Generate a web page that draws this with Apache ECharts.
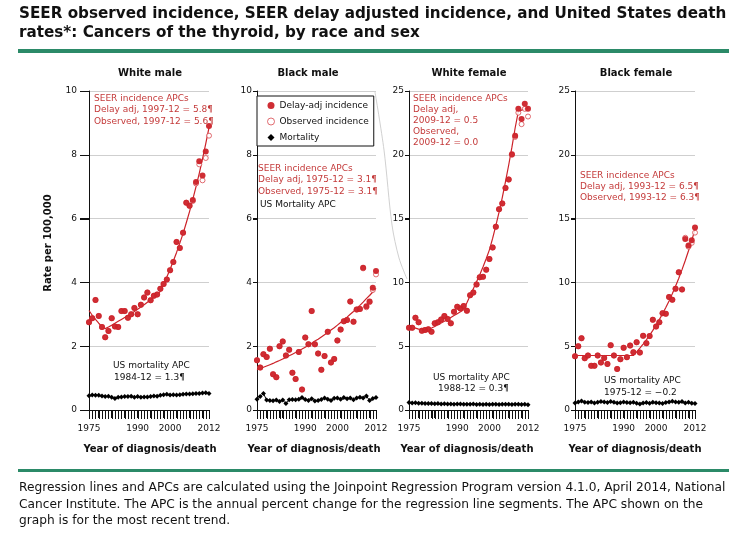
<!DOCTYPE html>
<html><head><meta charset="utf-8">
<script src="https://cdn.jsdelivr.net/npm/echarts@6.0.0/dist/echarts.min.js"></script>
<style>html,body{margin:0;padding:0;background:#fff}#c{width:750px;height:534px}</style>
</head><body><div id="c"></div>
<script>
// ---------- DATA ----------
var years = ['1975','1976','1977','1978','1979','1980','1981','1982','1983','1984','1985','1986','1987','1988','1989','1990','1991','1992','1993','1994','1995','1996','1997','1998','1999','2000','2001','2002','2003','2004','2005','2006','2007','2008','2009','2010','2011','2012'];
var xTickLabels = ['1975', '1990', '2000', '2012'];
var panelTitles = ['White male', 'Black male', 'White female', 'Black female'];

// White male
var wmDelay = [2.75,2.88,3.45,2.95,2.6,2.28,2.48,2.88,2.62,2.6,3.1,3.1,2.89,3.0,3.2,3.0,3.3,3.53,3.68,3.44,3.58,3.62,3.8,3.95,4.09,4.38,4.64,5.27,5.08,5.56,6.5,6.4,6.58,7.15,7.8,7.35,8.1,8.9];
var wmObs   = [2.75,2.88,3.45,2.95,2.6,2.28,2.48,2.88,2.62,2.6,3.1,3.1,2.89,3.0,3.2,3.0,3.3,3.53,3.68,3.44,3.58,3.62,3.8,3.95,4.09,4.38,4.64,5.27,5.08,5.56,6.5,6.4,6.55,7.1,7.7,7.2,7.9,8.6];
var wmFit   = [3.12,2.97,2.84,2.72,2.61,2.55,2.6,2.66,2.72,2.78,2.84,2.9,2.96,3.02,3.09,3.16,3.23,3.3,3.38,3.46,3.54,3.62,3.72,3.94,4.17,4.41,4.67,4.94,5.23,5.53,5.87,6.22,6.6,7.0,7.42,7.87,8.35,8.85];
var wmMort  = [0.45,0.47,0.46,0.46,0.44,0.42,0.43,0.40,0.36,0.40,0.41,0.42,0.42,0.43,0.40,0.42,0.40,0.41,0.41,0.42,0.44,0.43,0.46,0.48,0.49,0.47,0.48,0.47,0.48,0.49,0.50,0.50,0.51,0.52,0.52,0.53,0.54,0.52];

// Black male
var bmDelay = [1.56,1.33,1.75,1.66,1.92,1.12,1.03,2.0,2.15,1.71,1.89,1.17,0.97,1.82,0.64,2.27,2.06,3.1,2.06,1.77,1.26,1.69,2.45,1.49,1.6,2.18,2.52,2.78,2.82,3.4,2.77,3.15,3.17,4.46,3.25,3.4,3.83,4.36];
var bmObs   = [1.56,1.33,1.75,1.66,1.92,1.12,1.03,2.0,2.15,1.71,1.89,1.17,0.97,1.82,0.64,2.27,2.06,3.1,2.06,1.77,1.26,1.69,2.45,1.49,1.6,2.18,2.52,2.78,2.82,3.4,2.77,3.15,3.17,4.44,3.22,3.38,3.76,4.25];
var bmFit   = [1.26,1.30,1.34,1.38,1.42,1.46,1.51,1.55,1.60,1.65,1.70,1.75,1.80,1.86,1.91,1.97,2.03,2.09,2.16,2.22,2.29,2.36,2.43,2.51,2.58,2.66,2.74,2.83,2.91,3.0,3.09,3.19,3.28,3.38,3.49,3.59,3.70,3.81];
var bmMort  = [0.34,0.42,0.52,0.31,0.30,0.29,0.31,0.27,0.31,0.20,0.32,0.33,0.32,0.34,0.39,0.33,0.30,0.35,0.28,0.30,0.33,0.38,0.34,0.30,0.37,0.38,0.34,0.39,0.35,0.38,0.32,0.38,0.40,0.38,0.44,0.30,0.36,0.39];

// White female
var wfDelay = [6.45,6.45,7.23,6.87,6.21,6.27,6.32,6.14,6.79,6.87,7.1,7.36,7.13,6.79,7.7,8.09,7.96,8.15,7.78,9.0,9.2,9.84,10.4,10.44,11.0,11.83,12.74,14.36,15.74,16.19,17.4,18.07,20.05,21.5,23.6,22.8,24.0,23.6];
var wfObs   = [6.45,6.45,7.23,6.87,6.21,6.27,6.32,6.14,6.79,6.87,7.1,7.36,7.13,6.79,7.7,8.09,7.96,8.15,7.78,9.0,9.2,9.84,10.4,10.44,11.0,11.83,12.74,14.36,15.74,16.19,17.4,18.07,20.0,21.4,23.3,22.4,23.6,23.0];
var wfFit   = [6.6,6.5,6.42,6.34,6.27,6.2,6.3,6.42,6.55,6.68,6.82,6.96,7.1,7.25,7.4,7.55,7.7,7.86,8.4,8.95,9.5,10.05,10.6,11.2,11.85,12.55,13.45,14.45,15.5,16.65,17.9,19.2,20.6,22.1,23.4,23.5,23.6,23.7];
var wfMort  = [0.58,0.55,0.56,0.52,0.53,0.51,0.50,0.50,0.49,0.50,0.48,0.49,0.47,0.48,0.46,0.48,0.47,0.46,0.46,0.45,0.47,0.44,0.45,0.44,0.45,0.44,0.45,0.45,0.44,0.45,0.46,0.45,0.44,0.46,0.45,0.44,0.46,0.42];

// Black female
var bfDelay = [4.21,5.0,5.63,4.06,4.27,3.46,3.46,4.27,3.72,4.08,3.61,5.08,4.27,3.22,3.98,4.87,4.14,5.05,4.53,5.31,4.5,5.81,5.24,5.79,7.07,6.54,6.88,7.59,7.54,8.85,8.64,9.5,10.79,9.45,13.4,12.9,13.3,14.3];
var bfObs   = [4.21,5.0,5.63,4.06,4.27,3.46,3.46,4.27,3.72,4.08,3.61,5.08,4.27,3.22,3.98,4.87,4.14,5.05,4.53,5.31,4.5,5.81,5.24,5.79,7.07,6.54,6.88,7.59,7.54,8.85,8.64,9.5,10.79,9.45,13.5,12.8,13.1,13.9];
var bfFit   = [4.27,4.27,4.27,4.27,4.27,4.27,4.27,4.27,4.27,4.27,4.27,4.27,4.27,4.27,4.27,4.27,4.27,4.27,4.27,4.55,4.85,5.17,5.5,5.86,6.24,6.65,7.08,7.54,8.03,8.55,9.11,9.7,10.33,11.0,11.72,12.48,13.29,14.15];
var bfMort  = [0.55,0.62,0.70,0.60,0.58,0.63,0.55,0.60,0.67,0.62,0.58,0.66,0.60,0.55,0.57,0.62,0.58,0.56,0.60,0.52,0.48,0.55,0.58,0.52,0.60,0.57,0.55,0.50,0.58,0.63,0.68,0.62,0.60,0.66,0.55,0.60,0.52,0.50];

var yMax = [10, 10, 25, 25];
var yInterval = [2, 2, 5, 5];

// ---------- STYLE / LAYOUT ----------
var RED = '#cc2229', TXTRED = '#c43a3a', FONT = '"DejaVu Sans", Verdana, sans-serif';
var gridPos = [
  {left: 89, width: 120, yTick: 9, yMargin: 12},
  {left: 257, width: 119, yTick: 4, yMargin: 5},
  {left: 409, width: 119, yTick: 4, yMargin: 5},
  {left: 575, width: 120, yTick: 4, yMargin: 5}
];
var panels = [
  {delay: wmDelay, obs: wmObs, fit: wmFit, mort: wmMort},
  {delay: bmDelay, obs: bmObs, fit: bmFit, mort: bmMort},
  {delay: wfDelay, obs: wfObs, fit: wfFit, mort: wfMort},
  {delay: bfDelay, obs: bfObs, fit: bfFit, mort: bfMort}
];

var grids = [], xAxes = [], yAxes = [], series = [];
panels.forEach(function (p, i) {
  var g = gridPos[i];
  grids.push({left: g.left, width: g.width, top: 91, height: 319});
  xAxes.push({
    type: 'category', gridIndex: i, data: years, boundaryGap: false,
    axisLine: {show: true, onZero: false, lineStyle: {color: '#111', width: 1}},
    axisTick: {show: true, interval: 0, inside: false, length: 8, lineStyle: {color: '#111', width: 1}},
    axisLabel: {show: true, interval: 0, margin: 14, fontSize: 9, color: '#111', fontFamily: FONT,
      formatter: function (v) { return xTickLabels.indexOf(String(v)) >= 0 ? String(v) : ''; }},
    splitLine: {show: false}
  });
  yAxes.push({
    type: 'value', gridIndex: i, min: 0, max: yMax[i], interval: yInterval[i],
    axisLine: {show: true, onZero: false, lineStyle: {color: '#111', width: 1}},
    axisTick: {show: true, inside: false, length: g.yTick, lineStyle: {color: '#111', width: 1}},
    axisLabel: {margin: g.yMargin, fontSize: 9, color: '#111', fontFamily: FONT},
    splitLine: {show: true, lineStyle: {color: '#cfcfcf', width: 1}}
  });
  series.push({
    name: 'fit', type: 'line', xAxisIndex: i, yAxisIndex: i, data: p.fit,
    symbol: 'none', smooth: false, lineStyle: {color: RED, width: 1.2}, z: 2, silent: true
  });
  series.push({
    name: 'Observed incidence', type: 'scatter', xAxisIndex: i, yAxisIndex: i, data: p.obs,
    symbol: 'circle', symbolSize: 5, itemStyle: {color: '#fff', borderColor: '#d8474d', borderWidth: 1}, z: 3
  });
  series.push({
    name: 'Delay-adj incidence', type: 'scatter', xAxisIndex: i, yAxisIndex: i, data: p.delay,
    symbol: 'circle', symbolSize: 6, itemStyle: {color: RED, opacity: 0.95}, z: 4
  });
  series.push({
    name: 'Mortality', type: 'line', xAxisIndex: i, yAxisIndex: i, data: p.mort,
    symbol: 'diamond', symbolSize: 5, showSymbol: true, itemStyle: {color: '#000'},
    lineStyle: {color: '#000', width: 1}, z: 5
  });
});

function txt(x, y, s, font, fill, align) {
  return {type: 'text', x: x, y: y, silent: true,
    style: {text: s, font: font, fill: fill || '#111', textAlign: align || 'left', textVerticalAlign: 'middle'}};
}
var F9 = '9px ' + FONT, B10 = 'bold 10px ' + FONT, FT = 'bold 15.2px ' + FONT, FN = '12.2px ' + FONT;
var graphics = [
  txt(19, 14, 'SEER observed incidence, SEER delay adjusted incidence, and United States death', FT),
  txt(19, 33, 'rates*: Cancers of the thyroid, by race and sex', FT),
  {type: 'rect', shape: {x: 18, y: 49, width: 711, height: 4}, style: {fill: '#2b8a68'}, silent: true},
  {type: 'rect', shape: {x: 18, y: 469, width: 711, height: 3}, style: {fill: '#2b8a68'}, silent: true},
  txt(19, 488, 'Regression lines and APCs are calculated using the Joinpoint Regression Program version 4.1.0, April 2014, National', FN),
  txt(19, 505, 'Cancer Institute. The APC is the annual percent change for the regression line segments. The APC shown on the', FN),
  txt(19, 521, 'graph is for the most recent trend.', FN),
  {type: 'text', x: 48, y: 243, rotation: Math.PI / 2, silent: true,
    style: {text: 'Rate per 100,000', font: B10, fill: '#111', textAlign: 'center', textVerticalAlign: 'middle'}},
  txt(150, 73, panelTitles[0], B10, '#111', 'center'),
  txt(308, 73, panelTitles[1], B10, '#111', 'center'),
  txt(469, 73, panelTitles[2], B10, '#111', 'center'),
  txt(636, 73, panelTitles[3], B10, '#111', 'center'),
  txt(150, 449, 'Year of diagnosis/death', B10, '#111', 'center'),
  txt(314, 449, 'Year of diagnosis/death', B10, '#111', 'center'),
  txt(467, 449, 'Year of diagnosis/death', B10, '#111', 'center'),
  txt(635, 449, 'Year of diagnosis/death', B10, '#111', 'center'),
  // annotations panel 1
  txt(94, 98.5, 'SEER incidence APCs', F9, TXTRED),
  txt(94, 110, 'Delay adj, 1997-12 = 5.8\u00b6', F9, TXTRED),
  txt(94, 121.5, 'Observed, 1997-12 = 5.6\u00b6', F9, TXTRED),
  txt(113, 366, 'US mortality APC', F9, '#111'),
  txt(114, 377.5, '1984-12 = 1.3\u00b6', F9, '#111'),
  // panel 2
  txt(258, 168.5, 'SEER incidence APCs', F9, TXTRED),
  txt(258, 180, 'Delay adj, 1975-12 = 3.1\u00b6', F9, TXTRED),
  txt(258, 191.5, 'Observed, 1975-12 = 3.1\u00b6', F9, TXTRED),
  txt(260, 205, 'US Mortality APC', F9, '#111'),
  // panel 3
  txt(413, 98.5, 'SEER incidence APCs', F9, TXTRED),
  txt(413, 110, 'Delay adj,', F9, TXTRED),
  txt(413, 121, '2009-12 = 0.5', F9, TXTRED),
  txt(413, 132, 'Observed,', F9, TXTRED),
  txt(413, 143, '2009-12 = 0.0', F9, TXTRED),
  txt(433, 378, 'US mortality APC', F9, '#111'),
  txt(438, 389, '1988-12 = 0.3\u00b6', F9, '#111'),
  // panel 4
  txt(580, 176, 'SEER incidence APCs', F9, TXTRED),
  txt(580, 187, 'Delay adj, 1993-12 = 6.5\u00b6', F9, TXTRED),
  txt(580, 198, 'Observed, 1993-12 = 6.3\u00b6', F9, TXTRED),
  txt(604, 381, 'US mortality APC', F9, '#111'),
  txt(604, 392.5, '1975-12 = \u22120.2', F9, '#111'),
  // faint connector line
  {type: 'polyline', silent: true, shape: {points: [[375, 92], [384, 150], [392, 225], [399, 258], [407, 279]], smooth: 0.3},
    style: {stroke: '#c4c4c4', lineWidth: 0.8, fill: null}}
];

var chart = echarts.init(document.getElementById('c'), null, {renderer: 'canvas'});
chart.setOption({
  animation: false,
  backgroundColor: '#fff',
  grid: grids, xAxis: xAxes, yAxis: yAxes, series: series,
  legend: {
    show: true, orient: 'vertical', left: 257, top: 96,
    backgroundColor: '#fff', borderColor: '#111', borderWidth: 1,
    padding: [4, 5, 3, 10], itemWidth: 7, itemHeight: 7, itemGap: 5,
    textStyle: {fontSize: 9, color: '#111', fontFamily: FONT, lineHeight: 11},
    selectedMode: false,
    data: [
      {name: 'Delay-adj incidence', icon: 'circle', itemStyle: {color: RED}},
      {name: 'Observed incidence', icon: 'circle', itemStyle: {color: '#fff', borderColor: '#d8474d', borderWidth: 1}},
      {name: 'Mortality', icon: 'diamond', itemStyle: {color: '#000'}}
    ]
  },
  graphic: graphics
});

// Axis tick marks, positioned through the axes' own scales
var ticks = [];
panels.forEach(function (p, i) {
  var g = gridPos[i];
  years.forEach(function (yr, k) {
    var pt = chart.convertToPixel({gridIndex: i}, [k, 0]);
    if (!pt) return;
    var x = Math.round(pt[0]) + 0.5, y = Math.round(pt[1]);
    ticks.push({type: 'line', silent: true, shape: {x1: x, y1: y + 1, x2: x, y2: y + 9},
      style: {stroke: '#111', lineWidth: 1}});
  });
  for (var v = 0; v <= yMax[i]; v += yInterval[i]) {
    var q = chart.convertToPixel({gridIndex: i}, [0, v]);
    if (!q) continue;
    var xx = Math.round(q[0]), yy = Math.round(q[1]) + 0.5;
    ticks.push({type: 'line', silent: true, shape: {x1: xx - g.yTick, y1: yy, x2: xx, y2: yy},
      style: {stroke: '#111', lineWidth: 1}});
  }
});
chart.setOption({graphic: graphics.concat(ticks)});
</script></body></html>
